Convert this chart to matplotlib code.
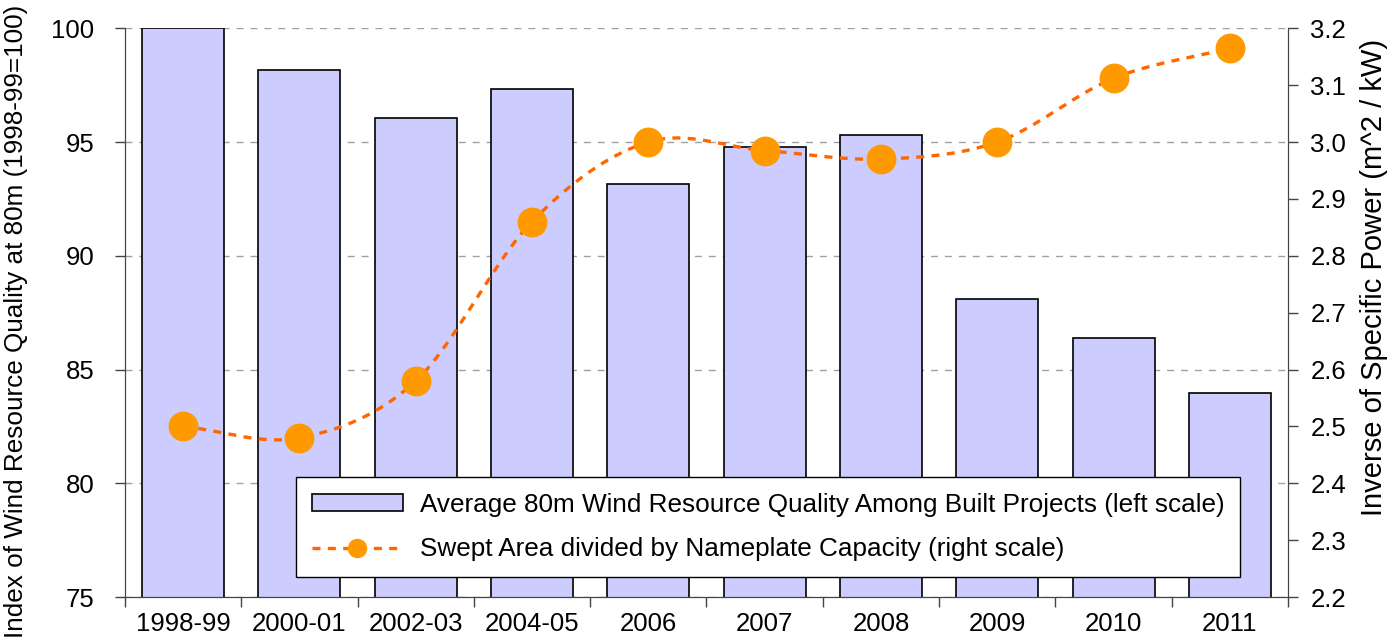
import numpy as np
import matplotlib.pyplot as plt
from matplotlib.lines import Line2D
from matplotlib.patches import Patch

plt.rcParams['font.family'] = ['Liberation Sans', 'DejaVu Sans']

years = ['1998-99', '2000-01', '2002-03', '2004-05', '2006', '2007', '2008', '2009', '2010', '2011']
quality = [100.0, 98.15, 96.05, 97.35, 93.15, 94.8, 95.3, 88.1, 86.4, 83.95]
swept = [2.50, 2.48, 2.58, 2.86, 3.00, 2.985, 2.97, 3.00, 3.112, 3.165]


def smooth(xs, ys, n=30):
    # Catmull-Rom curve through the points, like Excel's smoothed line
    xs = np.asarray(xs, float)
    ys = np.asarray(ys, float)
    px = np.concatenate([[2 * xs[0] - xs[1]], xs, [2 * xs[-1] - xs[-2]]])
    py = np.concatenate([[2 * ys[0] - ys[1]], ys, [2 * ys[-1] - ys[-2]]])
    ox, oy = [], []
    t = np.linspace(0, 1, n)
    for i in range(1, len(px) - 2):
        for p, o in ((px, ox), (py, oy)):
            p0, p1, p2, p3 = p[i - 1], p[i], p[i + 1], p[i + 2]
            o.extend(0.5 * (2 * p1 + (-p0 + p2) * t + (2 * p0 - 5 * p1 + 4 * p2 - p3) * t ** 2
                            + (-p0 + 3 * p1 - 3 * p2 + p3) * t ** 3))
    return ox, oy


fig = plt.figure(figsize=(13.88, 6.42), dpi=100)
ax = fig.add_axes([0.09, 0.07, 0.838, 0.886])
x = np.arange(len(years))

ax.bar(x, quality, width=0.705, color='#ccccff', edgecolor='black', linewidth=1.2, zorder=2)
ax.set_ylim(75, 100)
ax.set_xlim(-0.5, len(years) - 0.5)
ax.set_yticks([75, 80, 85, 90, 95, 100])
ax.yaxis.grid(True, color='#a0a0a0', linestyle=(0, (5, 5)), linewidth=1)
ax.set_axisbelow(True)
ax.set_xticks(np.arange(len(years) + 1) - 0.5)
ax.set_xticklabels([])
ax.set_xticks(x, minor=True)
ax.set_xticklabels(years, minor=True)
ax.tick_params(axis='x', which='minor', length=0, labelsize=18.5, pad=11)
ax.tick_params(axis='x', which='major', length=7, width=1, color='#444444')
ax.tick_params(axis='y', labelsize=18.5, length=7, width=1, color='#444444', pad=15)
ax.set_ylabel('Index of Wind Resource Quality at 80m (1998-99=100)', fontsize=18.8)
ax.yaxis.set_label_coords(-0.083, 0.485)
ax.spines['top'].set_visible(False)
for s in ('left', 'bottom', 'right'):
    ax.spines[s].set_color('#444444')

dash = (0, (2.4, 2.2))
ax2 = ax.twinx()
cx, cy = smooth(x, swept)
ax2.plot(cx, cy, color='#ff6600', linestyle=dash, linewidth=2.4, zorder=3)
ax2.plot(x, swept, 'o', color='#ff9900', markersize=20.5, zorder=4)
ax2.set_ylim(2.2, 3.2)
ax2.set_yticks(np.arange(2.2, 3.21, 0.1))
ax2.set_yticklabels(['%.1f' % v for v in np.arange(2.2, 3.21, 0.1)])
ax2.tick_params(axis='y', labelsize=18.5, length=7, width=1, color='#444444', pad=9)
ax2.set_ylabel('Inverse of Specific Power (m^2 / kW)', fontsize=21)
ax2.yaxis.set_label_coords(1.062, 0.562)
ax2.spines['top'].set_visible(False)
for s in ('left', 'bottom', 'right'):
    ax2.spines[s].set_color('#444444')

handles = [Patch(facecolor='#ccccff', edgecolor='black', linewidth=1.2),
           Line2D([], [], color='#ff6600', linestyle=dash, linewidth=2.4,
                  marker='o', markersize=13, markerfacecolor='#ff9900', markeredgecolor='#ff9900')]
labels = ['Average 80m Wind Resource Quality Among Built Projects (left scale)',
          'Swept Area divided by Nameplate Capacity (right scale)']
leg = ax2.legend(handles, labels, loc='lower left', bbox_to_anchor=(0.147, 0.035), fontsize=18.8,
                 frameon=True, fancybox=False, edgecolor='black', framealpha=1,
                 handlelength=3.5, handleheight=0.65, labelspacing=0.8, borderpad=0.6,
                 handletextpad=0.65, borderaxespad=0)
leg.get_frame().set_linewidth(1)

fig.savefig('out.png', dpi=100)
